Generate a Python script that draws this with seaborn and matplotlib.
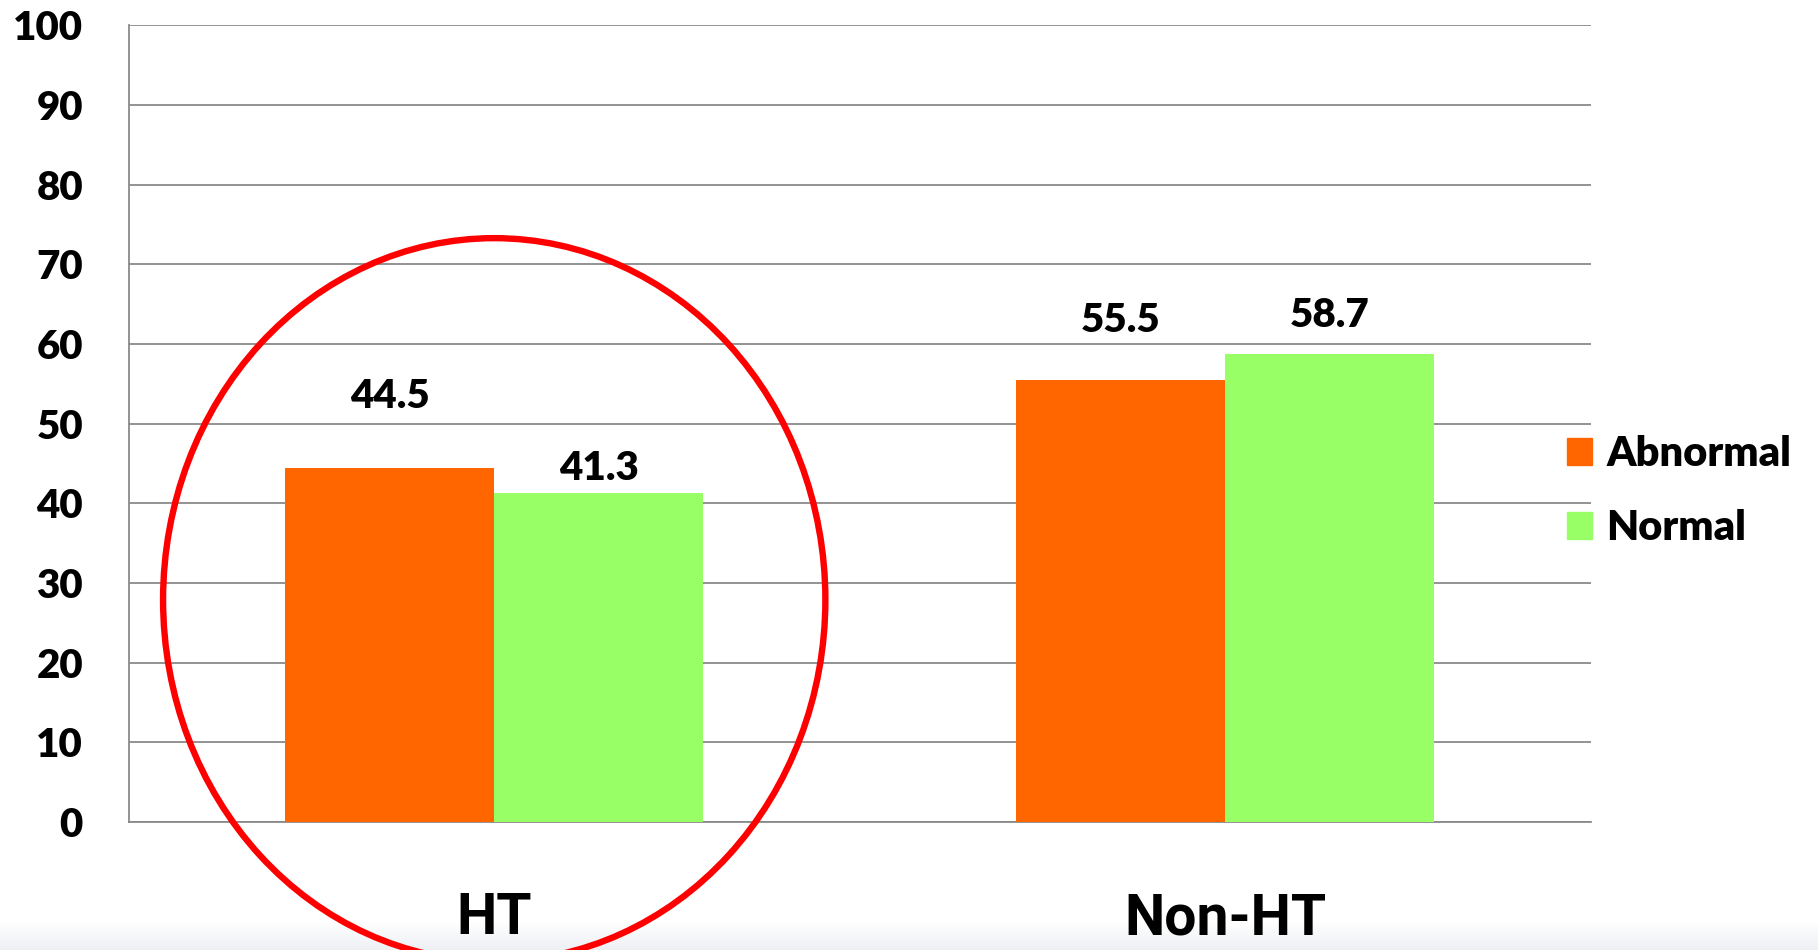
import numpy as np
import pandas as pd
import matplotlib
matplotlib.use("Agg")
import matplotlib.pyplot as plt
from matplotlib.patches import Ellipse
import seaborn as sns

# ---- data ----
categories = ["HT", "Non-HT"]
groups = ["Abnormal", "Normal"]
abnormal = [44.5, 55.5]
normal = [41.3, 58.7]
label_offsets_abnormal = [8.9, 7.5]
label_offsets_normal = [3.1, 4.9]
y_ticks = [0, 10, 20, 30, 40, 50, 60, 70, 80, 90, 100]
colors = ["#FF6600", "#99FF66"]

df = pd.DataFrame({
    "cat": categories * 2,
    "grp": [groups[0]] * 2 + [groups[1]] * 2,
    "val": abnormal + normal,
})

sns.set_style("white")
plt.rcParams["font.family"] = ["Lato", "DejaVu Sans"]
plt.rcParams["font.weight"] = "bold"
plt.rcParams["text.color"] = "black"
plt.rcParams["xtick.color"] = "black"
plt.rcParams["ytick.color"] = "black"
plt.rcParams["xtick.labelcolor"] = "black"
plt.rcParams["ytick.labelcolor"] = "black"

fig = plt.figure(figsize=(18.18, 9.5), dpi=100)

# subtle gradient band at bottom
bg = fig.add_axes([0, 0, 1, 0.03], zorder=-5)
grad = np.linspace(0, 1, 50).reshape(-1, 1)
bg.imshow(grad, aspect="auto", cmap=matplotlib.colors.LinearSegmentedColormap.from_list(
    "g", ["#eef0f4", "#ffffff"]), extent=[0, 1, 0, 1], origin="lower")
bg.axis("off")

ax = fig.add_axes([0.0708, 0.1347, 0.8042, 0.8385])
ax.patch.set_alpha(0)

sns.barplot(data=df, x="cat", y="val", hue="grp", order=categories,
            hue_order=groups, palette=colors, width=0.5714, saturation=1,
            ax=ax, zorder=3, edgecolor="none", linewidth=0)

ax.set_ylim(0, 100)
ax.set_xlim(-0.5, 1.5)
ax.set_yticks(y_ticks)
ax.set_yticklabels([str(t) for t in y_ticks], fontsize=29, fontweight="heavy", color="black")
ax.yaxis.grid(True, color="#8a8a8a", linewidth=1.3, zorder=0)
ax.set_axisbelow(True)

# x ticks: major at boundaries (marks), minor at centers (labels)
ax.set_xticks([-0.5, 0.5, 1.5])
ax.set_xticklabels(["", "", ""])
ax.set_xticks([0, 1], minor=True)
ax.set_xticklabels(categories, minor=True, fontsize=41, fontweight="bold", color="black",
                   family=["Liberation Sans Narrow", "Roboto", "Liberation Sans"])
ax.tick_params(axis="x", which="major", length=14, width=1.3, color="#8a8a8a", direction="out")
ax.tick_params(axis="x", which="minor", length=0, pad=50)
ax.tick_params(axis="y", length=11, width=1.3, color="#8a8a8a", pad=22, direction="out")
ax.set_xlabel("")
ax.set_ylabel("")

for s in ["top", "right"]:
    ax.spines[s].set_visible(False)
for s in ["left", "bottom"]:
    ax.spines[s].set_color("#8a8a8a")
    ax.spines[s].set_linewidth(1.3)

# value labels
offs = [label_offsets_abnormal, label_offsets_normal]
for ci, cont in enumerate(ax.containers):
    for bi, bar in enumerate(cont):
        h = bar.get_height()
        ax.text(bar.get_x() + bar.get_width() / 2, h + offs[ci][bi],
                f"{h:.1f}", ha="center", va="center", fontsize=29,
                fontweight="heavy", color="black", zorder=5)

# legend
ax.get_legend().remove()
handles = [matplotlib.patches.Patch(color=c, label=g) for c, g in zip(colors, groups)]
leg = fig.legend(handles=handles, loc="center left", bbox_to_anchor=(0.8525, 0.483),
                 frameon=False, fontsize=30, handlelength=0.62, handleheight=0.62,
                 handletextpad=0.33, labelspacing=0.85, borderaxespad=0)
for t in leg.get_texts():
    t.set_fontweight("heavy")
    t.set_color("black")

# red highlight ellipse around HT group
ell = Ellipse((0.0, 27.9), width=0.906, height=90.8, fill=False,
              edgecolor="#FF0000", linewidth=4.6, clip_on=False, zorder=6)
ax.add_patch(ell)

fig.savefig("out.png", dpi=100)
